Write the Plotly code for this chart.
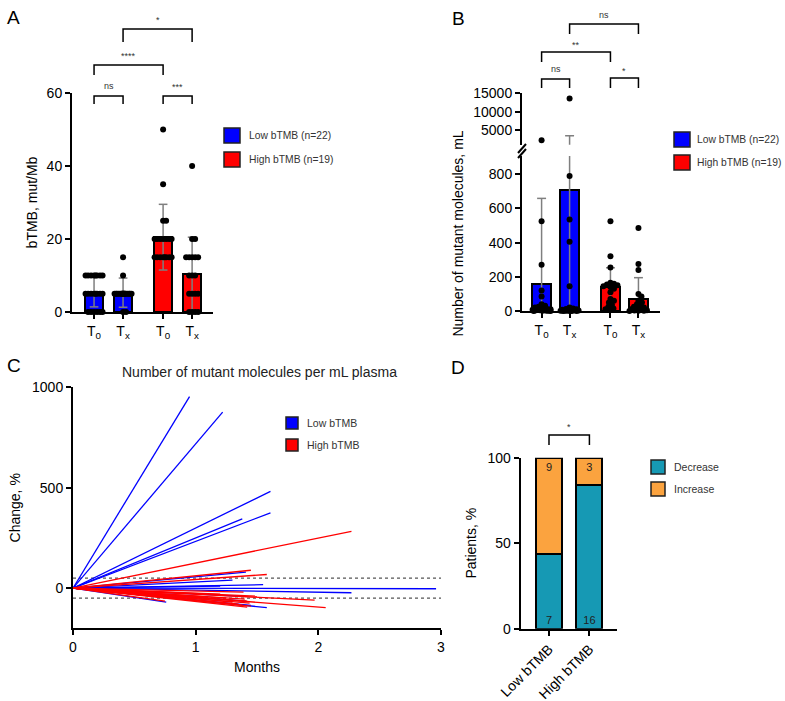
import plotly.graph_objects as go

W, H = 785, 701
FONT = "Liberation Sans, Arial, sans-serif"

# ---------------- Panel A data (bTMB, mut/Mb) ----------------
a_ticklabels = ["T<sub>0</sub>", "T<sub>x</sub>", "T<sub>0</sub>", "T<sub>x</sub>"]
a_low_t0 = [10, 10, 10, 10, 10, 10, 10, 10, 5, 5, 5, 5, 5, 5, 5, 5, 0, 0, 0, 0, 0, 0]
a_low_tx = [15, 10, 5, 5, 5, 5, 5, 5, 5, 5, 5, 5, 5, 5, 5, 5, 5, 5, 5, 5, 0, 0]
a_high_t0 = [50, 35, 25, 25, 20, 20, 20, 20, 20, 20, 20, 15, 15, 15, 15, 15, 15, 15, 15]
a_high_tx = [40, 20, 20, 15, 15, 15, 15, 15, 10, 10, 10, 5, 5, 5, 5, 0, 0, 0, 0]
a_mean = [5.5, 5.3, 20.5, 10.5]
a_sd = [4.1, 4.0, 9.0, 10.0]
a_sig = ["ns", "***", "****", "*"]

# ---------------- Panel B data (mutant molecules / mL) ----------------
b_low_t0 = [2200, 525, 270, 120, 85, 40, 30, 25, 20, 15, 12, 10, 8, 6, 5, 4, 3, 2, 2, 1, 0, 0]
b_low_tx = [13600, 790, 535, 405, 145, 20, 15, 12, 10, 8, 6, 5, 4, 3, 2, 2, 1, 1, 0, 0, 0, 0]
b_high_t0 = [525, 320, 255, 165, 160, 155, 150, 145, 140, 130, 110, 70, 60, 50, 35, 25, 15, 10, 5]
b_high_tx = [485, 275, 240, 100, 85, 60, 50, 40, 30, 25, 20, 15, 10, 8, 5, 3, 2, 1, 0]
b_mean = [156, 706, 142, 68]
b_sd = [503, 2734, 111, 127]
b_sig = ["ns", "**", "ns", "*"]
b_low_ticks = [0, 200, 400, 600, 800]
b_high_ticks = [5000, 10000, 15000]

# ---------------- Panel C data (% change vs months) ----------------
c_low_months = [0.95, 1.22, 1.61, 1.61, 1.38, 1.41, 1.55, 1.30, 1.20, 2.96, 2.27, 0.76, 1.41, 1.45, 1.58, 1.35]
c_low_change = [954, 876, 482, 375, 345, 80, 17, 40, 10, -3, -23, -70, -65, -86, -97, -40]
c_high_months = [2.27, 1.45, 1.58, 1.39, 1.97, 2.06, 1.40, 1.42, 1.44, 1.35, 1.30, 1.45, 1.38, 1.25, 0.75, 1.10, 1.42, 1.20, 1.50]
c_high_change = [283, 89, 68, -20, -60, -97, -55, -65, -75, -80, -70, -90, -85, -50, -65, -45, -95, -30, -40]
c_thresholds = [50, -50]

# ---------------- Panel D data (patients) ----------------
d_groups = ["Low bTMB", "High bTMB"]
d_decrease = [7, 16]
d_increase = [9, 3]

BLUE = "#0000FF"
RED = "#FF0000"
TEAL = "#1699B4"
ORANGE = "#FBA33F"
ERR = "#7F7F7F"


def py(p):
    """pixel row -> paper y"""
    return 1 - p / H


def px(p):
    """pixel column -> paper x"""
    return p / W


def swarm(vals, ppu_y, ppu_x, dist, max_off, step=0.5):
    """simple beeswarm in pixel space, offsets capped at +-max_off pixels"""
    placed = []
    offs = [0.0] * len(vals)
    order = sorted(range(len(vals)), key=lambda i: -vals[i])
    cands = [0.0]
    k = 1
    while k * step <= max_off:
        cands += [k * step, -k * step]
        k += 1
    for i in order:
        y = vals[i] * ppu_y
        best, best_d = 0.0, -1
        for c in cands:
            dmin = min([((c - a) ** 2 + (y - b) ** 2) ** 0.5 for a, b in placed] or [1e9])
            if dmin >= dist:
                best = c
                break
            if dmin > best_d:
                best, best_d = c, dmin
        placed.append((best, y))
        offs[i] = best / ppu_x
    return offs


def err_path(pos, mean, sd, capw):
    xs, ys = [], []
    for p, m, s in zip(pos, mean, sd):
        lo = max(m - s, 0)
        hi = m + s
        xs += [p, p, None, p - capw, p + capw, None]
        ys += [lo, hi, None, hi, hi, None]
        if m - s > 0:
            xs += [p - capw, p + capw, None]
            ys += [lo, lo, None]
    return xs, ys


fig = go.Figure()

# ================= Panel A =================
a_pos = [0, 1, 2.38, 3.38]
a_ppx = 29.0
a_ppy = 219.0 / 60
fig.add_trace(go.Bar(x=a_pos[:2], y=a_mean[:2], width=0.62, marker=dict(color=BLUE, line=dict(color="black", width=2)),
                     xaxis="x", yaxis="y", showlegend=False))
fig.add_trace(go.Bar(x=a_pos[2:], y=a_mean[2:], width=0.62, marker=dict(color=RED, line=dict(color="black", width=2)),
                     xaxis="x", yaxis="y", showlegend=False))
ex, ey = err_path(a_pos, a_mean, a_sd, 0.15)
fig.add_trace(go.Scatter(x=ex, y=ey, mode="lines", line=dict(color=ERR, width=1.5), xaxis="x", yaxis="y",
                         showlegend=False, hoverinfo="skip"))
for p, vals in zip(a_pos, [a_low_t0, a_low_tx, a_high_t0, a_high_tx]):
    offs = swarm(vals, a_ppy, a_ppx, 2.6, 8.5)
    fig.add_trace(go.Scatter(x=[p + o for o in offs], y=vals, mode="markers", cliponaxis=False,
                             marker=dict(color="black", size=6), xaxis="x", yaxis="y", showlegend=False))

# ================= Panel B =================
b_pos = [0, 1, 2.46, 3.46]
b_ppx = 28.0
b_ppy = 155.0 / 907
B_CUT = 907
fig.add_trace(go.Bar(x=b_pos[:2], y=b_mean[:2], width=0.68, marker=dict(color=BLUE, line=dict(color="black", width=2)),
                     xaxis="x2", yaxis="y2", showlegend=False))
fig.add_trace(go.Bar(x=b_pos[2:], y=b_mean[2:], width=0.68, marker=dict(color=RED, line=dict(color="black", width=2)),
                     xaxis="x2", yaxis="y2", showlegend=False))
ex, ey = err_path(b_pos, b_mean, b_sd, 0.16)
for xa, ya in [("x2", "y2"), ("x3", "y3")]:
    fig.add_trace(go.Scatter(x=ex, y=ey, mode="lines", line=dict(color=ERR, width=1.5), xaxis=xa, yaxis=ya,
                             showlegend=False, hoverinfo="skip"))
for p, vals in zip(b_pos, [b_low_t0, b_low_tx, b_high_t0, b_high_tx]):
    low_vals = [v for v in vals if v <= B_CUT]
    high_vals = [v for v in vals if v > B_CUT]
    offs = swarm(low_vals, b_ppy, b_ppx, 3.6, 9.0)
    fig.add_trace(go.Scatter(x=[p + o for o in offs], y=low_vals, mode="markers", cliponaxis=False,
                             marker=dict(color="black", size=6), xaxis="x2", yaxis="y2", showlegend=False))
    if high_vals:
        fig.add_trace(go.Scatter(x=[p] * len(high_vals), y=high_vals, mode="markers", cliponaxis=False,
                                 marker=dict(color="black", size=6), xaxis="x3", yaxis="y3", showlegend=False))

# ================= Panel C =================
def spokes(months, change):
    xs, ys = [], []
    for m, c in zip(months, change):
        xs += [0, m, None]
        ys += [0, c, None]
    return xs, ys

for thr in c_thresholds:
    fig.add_trace(go.Scatter(x=[0, 3], y=[thr, thr], mode="lines", line=dict(color="#555555", width=1.3, dash="dot"),
                             xaxis="x4", yaxis="y4", showlegend=False, hoverinfo="skip"))
lx, ly = spokes(c_low_months, c_low_change)
fig.add_trace(go.Scatter(x=lx, y=ly, mode="lines", line=dict(color=BLUE, width=1.3), xaxis="x4", yaxis="y4",
                         showlegend=False))
hx, hy = spokes(c_high_months, c_high_change)
fig.add_trace(go.Scatter(x=hx, y=hy, mode="lines", line=dict(color=RED, width=1.3), xaxis="x4", yaxis="y4",
                         showlegend=False))

# ================= Panel D =================
d_tot = [a + b for a, b in zip(d_decrease, d_increase)]
d_dec_pct = [100 * a / t for a, t in zip(d_decrease, d_tot)]
d_inc_pct = [100 * b / t for b, t in zip(d_increase, d_tot)]
fig.add_trace(go.Bar(x=d_groups, y=d_dec_pct, width=0.64, text=[str(v) for v in d_decrease],
                     textposition="inside", insidetextanchor="start", constraintext="none",
                     textfont=dict(size=11, color="#222222", family=FONT),
                     marker=dict(color=TEAL, line=dict(color="black", width=2)), xaxis="x5", yaxis="y5",
                     showlegend=False))
fig.add_trace(go.Bar(x=d_groups, y=d_inc_pct, width=0.64, text=[str(v) for v in d_increase],
                     textposition="inside", insidetextanchor="end", constraintext="none",
                     textfont=dict(size=11, color="#222222", family=FONT),
                     marker=dict(color=ORANGE, line=dict(color="black", width=2)), xaxis="x5", yaxis="y5",
                     showlegend=False))

# ================= Layout =================
axis_common = dict(showline=True, linecolor="black", linewidth=2, ticks="outside", ticklen=5, tickwidth=1.5,
                   tickcolor="black", showgrid=False, zeroline=False, automargin=False,
                   tickfont=dict(size=14, color="black", family=FONT))
title_font = dict(size=14, color="black", family=FONT)

layout = dict(
    width=W, height=H, margin=dict(l=0, r=0, t=0, b=0, autoexpand=False), plot_bgcolor="white",
    paper_bgcolor="white", barmode="stack", font=dict(family=FONT, color="black"), showlegend=False,
    # A
    xaxis=dict(axis_common, domain=[px(72), px(213)], range=[-0.76, 4.1], tickvals=a_pos, ticktext=a_ticklabels,
               anchor="y"),
    yaxis=dict(axis_common, domain=[py(312), py(93)], range=[0, 60], tickvals=[0, 20, 40, 60], anchor="x",
               title=dict(text="bTMB, mut/Mb", font=title_font, standoff=6)),
    # B lower
    xaxis2=dict(axis_common, domain=[px(522), px(660)], range=[-0.7, 4.23], tickvals=b_pos, ticktext=a_ticklabels,
                anchor="y2"),
    yaxis2=dict(axis_common, domain=[py(311), py(156)], range=[0, B_CUT], tickvals=b_low_ticks, anchor="x2",
                title=dict(text="Number of mutant molecules, mL", font=title_font, standoff=22)),
    # B upper
    xaxis3=dict(domain=[px(522), px(660)], range=[-0.7, 4.23], visible=False, anchor="y3", matches="x2"),
    yaxis3=dict(axis_common, domain=[py(144.7), py(93.3)], range=[1000, 15000], tickvals=b_high_ticks,
                ticktext=[str(v) for v in b_high_ticks], anchor="x3"),
    # C
    xaxis4=dict(axis_common, domain=[px(73), px(441)], range=[0, 3], tickvals=[0, 1, 2, 3], anchor="y4",
                title=dict(text="Months", font=title_font, standoff=8)),
    yaxis4=dict(axis_common, domain=[py(628.3), py(387.3)], range=[-200, 1000], tickvals=[0, 500, 1000],
                anchor="x4", title=dict(text="Change, %", font=title_font, standoff=8)),
    # D
    xaxis5=dict(axis_common, domain=[px(520.7), px(617.3)], range=[-0.7, 1.69], tickangle=-45, anchor="y5"),
    yaxis5=dict(axis_common, domain=[py(628.7), py(457.7)], range=[0, 100], tickvals=[0, 50, 100], anchor="x5",
                title=dict(text="Patients, %", font=title_font, standoff=8)),
)
fig.update_layout(**layout)

shapes = []
annotations = []
line_k = dict(color="black", width=1.5)


def bracket(xref, x0, x1, top_px, leg_px, label, text_px):
    shapes.append(dict(type="path", xref=xref, yref="paper",
                       path=f"M {x0},{py(leg_px)} L {x0},{py(top_px)} L {x1},{py(top_px)} L {x1},{py(leg_px)}",
                       line=line_k))
    annotations.append(dict(xref=xref, yref="paper", x=(x0 + x1) / 2, y=py(text_px), text=label, showarrow=False,
                            font=dict(size=9, color="#333333", family=FONT), yanchor="middle"))


# A brackets
bracket("x", a_pos[0], a_pos[1], 96, 104, a_sig[0], 86)
bracket("x", a_pos[2], a_pos[3], 96, 104, a_sig[1], 87)
bracket("x", a_pos[0], a_pos[2], 65, 75, a_sig[2], 56)
bracket("x", a_pos[1], a_pos[3], 29, 42, a_sig[3], 20)
# B brackets
bracket("x2", b_pos[0], b_pos[1], 79, 88, b_sig[0], 69)
bracket("x2", b_pos[0], b_pos[2], 52, 62, b_sig[1], 45)
bracket("x2", b_pos[1], b_pos[3], 24, 34, b_sig[2], 15)
bracket("x2", b_pos[2], b_pos[3], 78, 88, b_sig[3], 71)
# D bracket
bracket("x5", 0, 1, 435, 445, "*", 427)

# B axis break marks (white gap between the two axis segments, then two slashes)
shapes.append(dict(type="rect", xref="paper", yref="paper", x0=px(519), x1=px(525), y0=py(155), y1=py(146),
                   line=dict(width=0), fillcolor="white"))
for dy in [0, 5]:
    shapes.append(dict(type="line", xref="paper", yref="paper", x0=px(518), y0=py(153 + dy), x1=px(526),
                       y1=py(144 + dy), line=dict(color="black", width=2)))


def legend_item(x0, x1, y0, y1, color, text, tx, fsize):
    shapes.append(dict(type="rect", xref="paper", yref="paper", x0=px(x0), x1=px(x1), y0=py(y1), y1=py(y0),
                       fillcolor=color, line=dict(color="#222222", width=1.5)))
    annotations.append(dict(xref="paper", yref="paper", x=px(tx), y=py((y0 + y1) / 2), text=text, showarrow=False,
                            xanchor="left", yanchor="middle", font=dict(size=fsize, color="#333333", family=FONT)))


legend_item(224, 240, 128, 143, BLUE, "Low bTMB (n=22)", 247, 10.3)
legend_item(224, 240, 152, 167, RED, "High bTMB (n=19)", 247, 10.3)
legend_item(674, 690, 132, 147, BLUE, "Low bTMB (n=22)", 695, 10.3)
legend_item(674, 690, 155, 170, RED, "High bTMB (n=19)", 695, 10.3)
legend_item(286, 298, 417, 429, BLUE, "Low bTMB", 305, 10.5)
legend_item(286, 298, 439, 451, RED, "High bTMB", 305, 10.5)
legend_item(651, 665, 460, 474, TEAL, "Decrease", 672, 10.5)
legend_item(651, 665, 482, 496, ORANGE, "Increase", 672, 10.5)

# panel letters
for letter, x, y in [("A", 13, 17), ("B", 458, 19), ("C", 14, 366), ("D", 458, 367)]:
    annotations.append(dict(xref="paper", yref="paper", x=px(x), y=py(y), text=letter, showarrow=False,
                            xanchor="center", yanchor="middle", font=dict(size=19, color="black", family=FONT)))

# panel C title
annotations.append(dict(xref="paper", yref="paper", x=px(259), y=py(372),
                        text="Number of mutant molecules per mL plasma", showarrow=False,
                        xanchor="center", yanchor="middle", font=dict(size=14, color="#222222", family=FONT)))

fig.update_layout(shapes=shapes, annotations=annotations)
fig.write_html("out.html", config={"displayModeBar": False},
               post_script="document.body.style.margin='0px';document.body.style.overflow='hidden';")
